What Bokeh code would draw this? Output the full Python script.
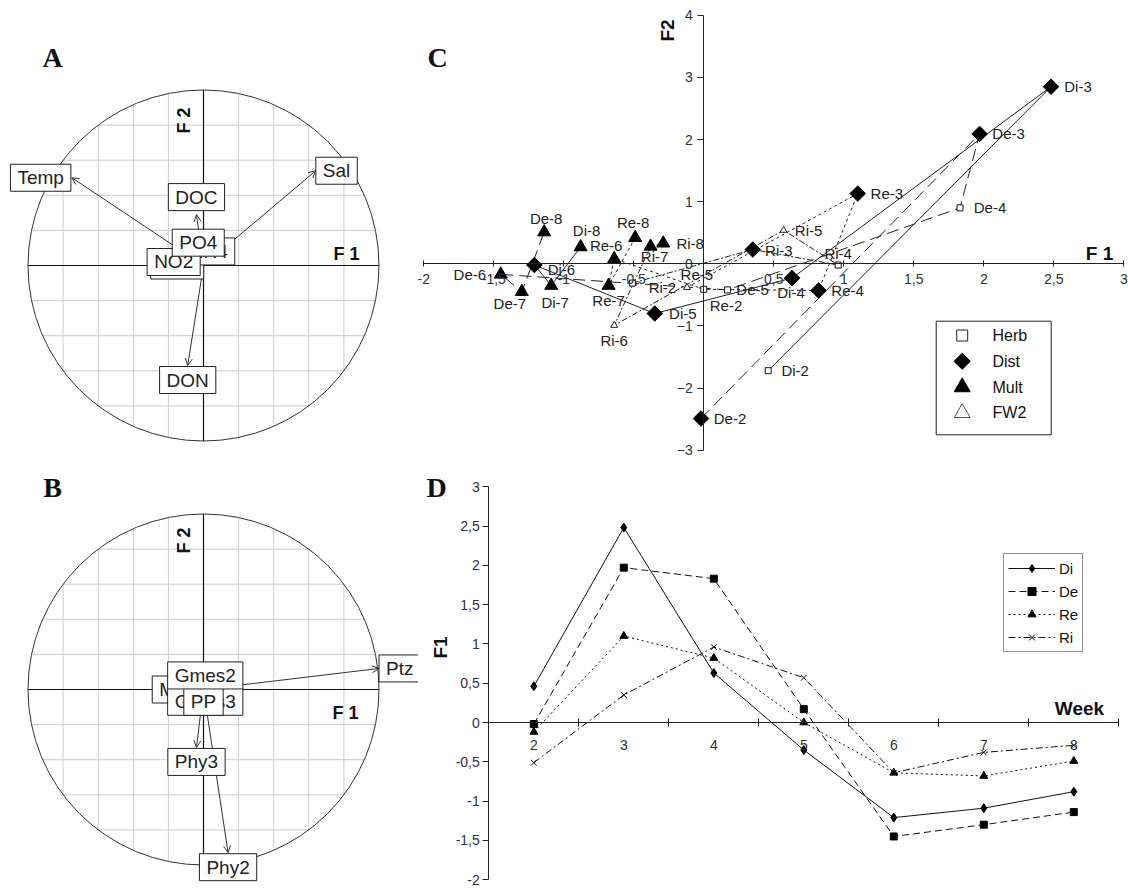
import math
from bokeh.plotting import figure
from bokeh.layouts import row, column
from bokeh.models import (Arrow, OpenHead, Label, LinearAxis, FixedTicker, Legend, LegendItem,
                          ColumnDataSource, Range1d, CustomJSTickFormatter)
from bokeh.core.properties import value
from bokeh.embed import file_html
from bokeh.resources import INLINE

SANS = "Liberation Sans"
SERIF = "Liberation Serif"

# ---------------- data ----------------
# Panel A: correlation circle, environmental variables (F1, F2 loadings)
a_names = ["NO3", "NH4", "NO2", "PO4", "DOC", "Temp", "Sal", "DON"]
a_f1 = [-0.15, 0.03, -0.17, -0.03, -0.04, -0.75, 0.64, -0.09]
a_f2 = [0.00, 0.08, 0.02, 0.13, 0.29, 0.50, 0.54, -0.57]

# Panel B: correlation circle, biological variables
b_names = ["Mes", "Gmes3", "PP", "Gmes2", "Ptz", "Phy3", "Phy2"]
b_f1 = [-0.15, 0.01, 0.00, 0.01, 1.00, -0.04, 0.14]
b_f2 = [0.00, -0.07, -0.07, 0.08, 0.12, -0.33, -0.93]

# Panels C & D: treatments x weeks
weeks = [2, 3, 4, 5, 6, 7, 8]
treatments = ["Di", "De", "Re", "Ri"]
f1_di = [0.46, 2.48, 0.63, -0.35, -1.21, -1.09, -0.88]
f1_de = [-0.02, 1.97, 1.83, 0.17, -1.45, -1.30, -1.14]
f1_re = [-0.12, 1.10, 0.82, 0.00, -0.64, -0.68, -0.49]
f1_ri = [-0.51, 0.35, 0.96, 0.57, -0.64, -0.38, -0.29]
f2_di = [-1.72, 2.85, -0.23, -0.80, -0.02, -0.35, 0.27]
f2_de = [-2.49, 2.09, 0.90, -0.42, -0.17, -0.45, 0.51]
f2_re = [-0.38, 1.13, -0.43, -0.41, 0.08, -0.35, 0.42]
f2_ri = [-0.31, 0.23, -0.02, 0.54, -0.99, 0.28, 0.33]
grp_di = ["Herb", "Dist", "Dist", "Dist", "Dist", "Mult", "Mult"]
grp_de = ["Dist", "Dist", "Herb", "Herb", "Mult", "Mult", "Mult"]
grp_re = ["FW2", "Dist", "Dist", "Herb", "Mult", "Mult", "Mult"]
grp_ri = ["Herb", "Dist", "Herb", "FW2", "FW2", "Mult", "Mult"]
groups = ["Herb", "Dist", "Mult", "FW2"]

c_xticks = [-2, -1.5, -1, -0.5, 0, 0.5, 1, 1.5, 2, 2.5, 3]
c_yticks = [-3, -2, -1, 0, 1, 2, 3, 4]
d_yticks = [-2, -1.5, -1, -0.5, 0, 0.5, 1, 1.5, 2, 2.5, 3]
d_minor = [2.5, 3.5, 4.5, 5.5, 6.5, 7.5, 8.5]

# ---------------- styles ----------------
a_anchor = ["center", "center", "center", "center", "bottom", "right", "left", "top"]
b_anchor = ["center", "center", "center", "center", "left", "top", "top"]
anchor_style = {
    "center": ("center", "middle", 0, 0),
    "bottom": ("center", "bottom", 0, 4),
    "top": ("center", "top", 0, -1),
    "right": ("right", "middle", -1, 0),
    "left": ("left", "middle", 0, 0),
}
# label offsets (screen px, y downwards) for panel C point labels
c_label_off = {
    "Di-2": (27, 0), "Di-3": (27, 0), "Di-4": (-1, 14), "Di-5": (28, 0), "Di-6": (27, 4), "Di-7": (4, 17), "Di-8": (6, -17),
    "De-2": (29, 0), "De-3": (29, 0), "De-4": (30, 0), "De-5": (25, 0), "De-6": (-31, 0), "De-7": (-12, 12), "De-8": (2, -14),
    "Re-2": (39, 18), "Re-3": (29, 0), "Re-4": (29, 0), "Re-5": (-7, -15), "Re-6": (-8, -13), "Re-7": (0, 15), "Re-8": (-2, -15),
    "Ri-2": (30, 4), "Ri-3": (26, 1), "Ri-4": (0, -12), "Ri-5": (25, 0), "Ri-6": (0, 15), "Ri-7": (4, 10), "Ri-8": (27, 0),
}
c_dash = {"Di": "solid", "De": "12 6", "Re": "3 3", "Ri": "6 2 2 2"}
d_dash = {"Di": "solid", "De": "7 4", "Re": "2 3", "Ri": "7 3 2 3"}
d_marker = {"Di": dict(marker="diamond", size=9),
            "De": dict(marker="square", size=7),
            "Re": dict(marker="triangle", size=8),
            "Ri": dict(marker="x", size=8)}
c_mstyle = {"Herb": dict(marker="square", size=6, fill_color="white", line_color="#111"),
            "Dist": dict(marker="square", angle=math.pi / 4, size=11, fill_color="#000", line_color="#000"),
            "Mult": dict(marker="triangle", size=13, fill_color="#000", line_color="#000"),
            "FW2": dict(marker="triangle", size=7, fill_color="white", line_color="#222")}
c_legstyle = {"Herb": dict(marker="square", size=11, fill_color="white", line_color="#222"),
              "Dist": dict(marker="square", angle=math.pi / 4, size=11.5, fill_color="#000", line_color="#000"),
              "Mult": dict(marker="triangle", size=16, fill_color="#000", line_color="#000"),
              "FW2": dict(marker="triangle", size=16, fill_color="white", line_color="#555")}


def mk(L, T, W, H, X0, sx, Y0, sy):
    """figure whose frame covers page pixels [L, L+W] x [T, T+H]; data 0 at (X0, Y0)."""
    p = figure(width=W, height=H,
               x_range=Range1d((L - X0) / sx, (L + W - X0) / sx),
               y_range=Range1d((Y0 - T - H) / sy, (Y0 - T) / sy),
               output_backend="svg", toolbar_location=None, x_axis_type=None, y_axis_type=None,
               min_border=0, title=None)
    p.outline_line_color = None
    p.background_fill_color = "white"
    p.border_fill_color = "white"
    return p


def txt(p, x, y, text, size, bold=True, font=SANS, angle=0.0):
    p.add_layout(Label(x=x, y=y, text=text, text_font=font, text_font_size=size,
                       text_font_style="bold" if bold else "normal", text_align="center",
                       text_baseline="middle", angle=angle, text_color="#111"))


def circle_panel(p, names, f1, f2, anchors):
    gv = [k / 5 for k in range(-4, 5) if k != 0]
    xs, ys = [], []
    for g in gv:
        h = math.sqrt(1 - g * g)
        xs.append([g, g]); ys.append([-h, h])
        xs.append([-h, h]); ys.append([g, g])
    p.multi_line(xs, ys, line_color="#cdcdcd", line_width=1)
    p.circle(x=[0], y=[0], radius=1, fill_color=None, line_color="#333", line_width=1)
    p.multi_line([[-1, 1], [0, 0]], [[0, 0], [-1, 1]], line_color="#111", line_width=1.2)
    for x, y in zip(f1, f2):
        p.add_layout(Arrow(x_start=0, y_start=0, x_end=x, y_end=y, line_color="#333", line_width=1,
                           end=OpenHead(size=7, line_width=1, line_color="#333")))
    for n, x, y, a in zip(names, f1, f2, anchors):
        al, bl, ox, oy = anchor_style[a]
        p.add_layout(Label(x=x, y=y, text=n, text_align=al, text_baseline=bl, x_offset=ox, y_offset=oy,
                           text_font=SANS, text_font_size="19px", text_color="#222",
                           background_fill_color="white", border_line_color="#222", border_line_width=1,
                           padding=(7, 3)))


# page-pixel calibration of each panel: (X of data 0, px per unit x, Y of data 0, px per unit y)
A_CAL = (203.0, 175.5, 265.0, 175.5)
B_CAL = (203.0, 175.5, 689.0, 175.5)
C_CAL = (703.3, 140.0, 263.3, 62.14)
D_CAL = (533.3 - 2 * 90.0, 90.0, 722.0, 78.6)


def ref(cal, X, Y):
    X0, sx, Y0, sy = cal
    return ((X - X0) / sx, (Y0 - Y) / sy)


# ---------------- Panel A ----------------
pA = mk(0, 0, 398, 458, *A_CAL)
circle_panel(pA, a_names, a_f1, a_f2, a_anchor)
txt(pA, *ref(A_CAL, 52, 57), "A", "28px", font=SERIF)
txt(pA, *ref(A_CAL, 183, 120), "F 2", "18px", angle=math.pi / 2)
txt(pA, *ref(A_CAL, 346, 253), "F 1", "18px")

# ---------------- Panel B ----------------
pB = mk(0, 458, 418, 430, *B_CAL)
circle_panel(pB, b_names, b_f1, b_f2, b_anchor)
txt(pB, *ref(B_CAL, 52, 487), "B", "28px", font=SERIF)
txt(pB, *ref(B_CAL, 183, 540), "F 2", "18px", angle=math.pi / 2)
txt(pB, *ref(B_CAL, 345, 712), "F 1", "18px")

# ---------------- Panel C ----------------
pC = mk(398, 0, 730, 458, *C_CAL)
sxC, syC = C_CAL[1], C_CAL[3]

fmt_cx = CustomJSTickFormatter(code="return tick == 0 ? '' : tick.toString().replace('.', ',');")
axis_kw = dict(axis_line_color="#222", major_tick_line_color="#222", major_label_text_font=SANS,
               major_label_text_font_size="14px", major_label_text_color="#333")
xa = LinearAxis(fixed_location=0, bounds=(-2, 3), ticker=FixedTicker(ticks=c_xticks), formatter=fmt_cx,
                major_tick_in=3, major_tick_out=3, minor_tick_in=0, minor_tick_out=0,
                major_label_standoff=7, **axis_kw)
pC.add_layout(xa, "below")
ya = LinearAxis(fixed_location=0, bounds=(-3, 4), ticker=FixedTicker(ticks=c_yticks),
                major_tick_in=0, major_tick_out=6, minor_tick_in=0, minor_tick_out=0,
                major_label_standoff=5, **axis_kw)
pC.add_layout(ya, "left")

c_f1 = {"Di": f1_di, "De": f1_de, "Re": f1_re, "Ri": f1_ri}
c_f2 = {"Di": f2_di, "De": f2_de, "Re": f2_re, "Ri": f2_ri}
c_grp = {"Di": grp_di, "De": grp_de, "Re": grp_re, "Ri": grp_ri}

for t in treatments:
    pC.line(c_f1[t], c_f2[t], line_color="#222", line_width=1, line_dash=c_dash[t])

for g in groups:
    xs, ys = [], []
    for t in treatments:
        for x, y, gg in zip(c_f1[t], c_f2[t], c_grp[t]):
            if gg == g:
                xs.append(x); ys.append(y)
    pC.scatter(xs, ys, **c_mstyle[g])

lx, ly, lt = [], [], []
for t in treatments:
    for w, x, y in zip(weeks, c_f1[t], c_f2[t]):
        name = f"{t}-{w}"
        dx, dy = c_label_off[name]
        lx.append(x + dx / sxC); ly.append(y - dy / syC); lt.append(name)
pC.text(x="x", y="y", text="t", source=ColumnDataSource(dict(x=lx, y=ly, t=lt)),
        text_font=value(SANS), text_font_size="15px", text_color="#222",
        text_align="center", text_baseline="middle")

# legend of panel C (drawn as a boxed key so the symbols keep their real size)
(bx0, by0), (bx1, by1) = ref(C_CAL, 935.7, 434.3), ref(C_CAL, 1050.7, 320.7)
pC.quad(left=[bx0], right=[bx1], bottom=[by0], top=[by1], fill_color="white",
        line_color="#222", line_width=1)
for i, g in enumerate(groups):
    mx, my = ref(C_CAL, 961.7, 335.0 + 25.8 * i)
    pC.scatter([mx], [my], **c_legstyle[g])
    tx, ty = ref(C_CAL, 992.0, 335.0 + 25.8 * i)
    pC.text([tx], [ty], text=[g], text_font=value(SANS), text_font_size="16px", text_color="#111",
            text_align="left", text_baseline="middle")

txt(pC, *ref(C_CAL, 437, 57), "C", "28px", font=SERIF)
txt(pC, *ref(C_CAL, 667, 30), "F2", "19px", angle=math.pi / 2)
txt(pC, *ref(C_CAL, 1099, 253), "F 1", "19px")

# ---------------- Panel D ----------------
pD = mk(418, 458, 710, 430, *D_CAL)

fmt_comma = CustomJSTickFormatter(code="return tick.toString().replace('.', ',');")
dxa = LinearAxis(fixed_location=0, bounds=(1.5, 8.5), ticker=FixedTicker(ticks=weeks, minor_ticks=d_minor),
                 major_tick_in=0, major_tick_out=0, minor_tick_in=4, minor_tick_out=4,
                 minor_tick_line_color="#222", major_label_standoff=13, **axis_kw)
pD.add_layout(dxa, "below")
dya = LinearAxis(fixed_location=1.5, bounds=(-2, 3), ticker=FixedTicker(ticks=d_yticks), formatter=fmt_comma,
                 major_tick_in=0, major_tick_out=6, minor_tick_in=0, minor_tick_out=0,
                 major_label_standoff=3, **axis_kw)
pD.add_layout(dya, "left")

d_items = []
for t in treatments:
    lr = pD.line(weeks, c_f1[t], line_color="#111", line_width=1, line_dash=d_dash[t])
    sr = pD.scatter(weeks, c_f1[t], fill_color="#000", line_color="#000", **d_marker[t])
    d_items.append(LegendItem(label=t, renderers=[lr, sr]))
legD = Legend(items=d_items, location=(585, 236), border_line_color="#222", border_line_width=1,
              background_fill_color="white", padding=4, spacing=3, glyph_width=47, glyph_height=20,
              label_height=20, label_width=1, label_standoff=4, margin=0,
              label_text_font=SANS, label_text_font_size="15px", label_text_color="#111")
pD.add_layout(legD)

txt(pD, *ref(D_CAL, 436, 487), "D", "28px", font=SERIF)
txt(pD, *ref(D_CAL, 440, 647), "F1", "19px", angle=math.pi / 2)
txt(pD, *ref(D_CAL, 1079, 708), "Week", "19px")

layout = column(row(pA, pC), row(pB, pD))
open("out.html", "w").write(file_html(layout, INLINE))
